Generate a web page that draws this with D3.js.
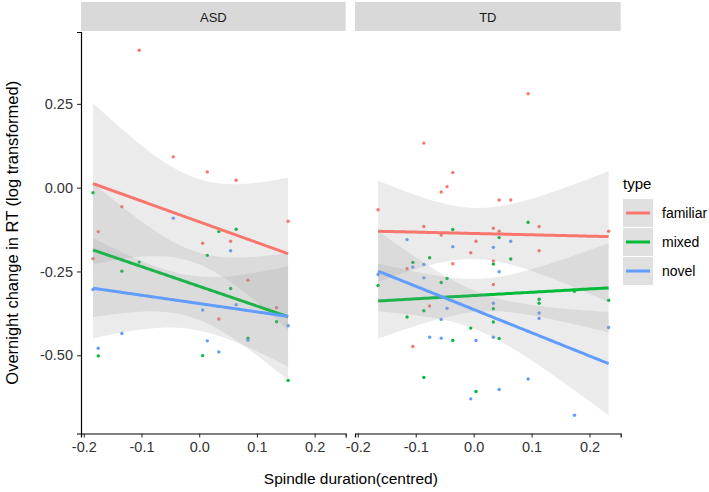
<!DOCTYPE html>
<html>
<head>
<meta charset="utf-8">
<script src="https://cdn.jsdelivr.net/npm/d3@7"></script>
<style>
  body { margin: 0; background: #fff; }
  text { font-family: "Liberation Sans", Arial, sans-serif; }
</style>
</head>
<body>
<div id="chart"></div>
<script>
// Points: [spindle duration (centred), overnight change in RT]
var asdFamiliar = [[-0.104,0.410],[-0.045,0.092],[0.014,0.047],[0.064,0.022],[-0.134,-0.057],[0.154,-0.100],
    [-0.175,-0.131],[0.006,-0.166],[0.0545,-0.160],[-0.184,-0.212],[0.0845,-0.276],[0.134,-0.358],[0.034,-0.392]];
var asdMixed = [[-0.184,-0.015],[0.064,-0.124],[0.034,-0.131],[0.014,-0.202],[-0.104,-0.222],[-0.134,-0.249],
    [0.0545,-0.301],[0.134,-0.400],[0.0845,-0.449],[-0.175,-0.502],[0.006,-0.501],[0.154,-0.575]];
var asdNovel = [[-0.045,-0.091],[0.0545,-0.188],[-0.184,-0.304],[0.006,-0.365],[0.064,-0.349],[0.154,-0.412],
    [-0.134,-0.435],[0.0845,-0.455],[0.014,-0.457],[-0.175,-0.479],[0.034,-0.490]];

var tdFamiliar = [[0.094,0.280],[-0.086,0.133],[-0.036,0.045],[-0.046,0.003],[-0.056,-0.013],[0.044,-0.037],
    [0.064,-0.037],[-0.165,-0.066],[-0.086,-0.116],[0.113,-0.116],[0.034,-0.121],[0.044,-0.130],[-0.056,-0.141],
    [0.004,-0.160],[0.113,-0.188],[-0.005,-0.194],[0.034,-0.219],[-0.036,-0.227],[-0.115,-0.242],[0.034,-0.289],
    [-0.076,-0.353],[-0.105,-0.474],[0.233,-0.130]];
var tdMixed = [[0.094,-0.103],[-0.036,-0.125],[0.044,-0.149],[0.064,-0.213],[-0.076,-0.209],[-0.105,-0.223],
    [0.034,-0.228],[-0.046,-0.271],[-0.056,-0.283],[-0.165,-0.292],[0.174,-0.309],[0.113,-0.333],[0.113,-0.345],
    [0.034,-0.361],[-0.086,-0.367],[-0.115,-0.386],[0.034,-0.401],[-0.005,-0.419],[0.044,-0.450],[-0.036,-0.456],
    [-0.086,-0.566],[0.004,-0.608],[0.233,-0.336]];
var tdNovel = [[-0.115,-0.155],[0.064,-0.160],[-0.036,-0.176],[0.034,-0.178],[-0.086,-0.229],[-0.105,-0.237],
    [0.044,-0.251],[-0.165,-0.259],[-0.086,-0.269],[0.034,-0.345],[-0.046,-0.360],[0.113,-0.374],[0.113,-0.390],
    [-0.056,-0.393],[-0.076,-0.446],[0.034,-0.446],[-0.056,-0.449],[0.004,-0.456],[0.094,-0.571],[0.044,-0.602],
    [-0.005,-0.630],[0.174,-0.679],[0.233,-0.417]];

// Fitted lines (lm): x range, fit at start / end,
// and the 95% band half-width at start / middle / end. Order: familiar, mixed, novel
var asdFitX = [-0.184, 0.154];
var asdFitStart = [0.012, -0.186, -0.300];
var asdFitEnd = [-0.197, -0.385, -0.384];
var asdBandHalf = [[0.241, 0.127, 0.227], [0.200, 0.100, 0.190], [0.150, 0.080, 0.150]];

var tdFitX = [-0.165, 0.233];
var tdFitStart = [-0.130, -0.338, -0.249];
var tdFitEnd = [-0.146, -0.299, -0.525];
var tdBandHalf = [[0.151, 0.080, 0.195], [0.112, 0.050, 0.133], [0.120, 0.060, 0.154]];

var groups = ["ASD", "TD"];
var types = ["familiar", "mixed", "novel"];
var typeColors = ["#F8766D", "#00BA38", "#619CFF"];
var xTicks = [-0.2, -0.1, 0.0, 0.1, 0.2];
var yTicks = [-0.50, -0.25, 0.00, 0.25];

var panelData = {
    ASD: { pts: [asdFamiliar, asdMixed, asdNovel], fx: asdFitX, f0: asdFitStart, f1: asdFitEnd, band: asdBandHalf },
    TD: { pts: [tdFamiliar, tdMixed, tdNovel], fx: tdFitX, f0: tdFitStart, f1: tdFitEnd, band: tdBandHalf }
};

var width = 709, height = 492;
var panelTop = 32, panelBottom = 433.5;
var panelX = { ASD: [81, 345.7], TD: [355, 620.7] };

var svg = d3.select("#chart").append("svg")
    .attr("width", width)
    .attr("height", height);

svg.append("rect").attr("width", width).attr("height", height).attr("fill", "#fff");

// shared scales with 5% expansion, like ggplot
var allPts = [].concat(asdFamiliar, asdMixed, asdNovel, tdFamiliar, tdMixed, tdNovel);
var xExt = d3.extent(allPts, function(d) { return d[0]; });
var yExt = d3.extent(allPts, function(d) { return d[1]; });
var xPad = (xExt[1] - xExt[0]) * 0.05, yPad = (yExt[1] - yExt[0]) * 0.05;

var y = d3.scaleLinear()
    .domain([yExt[0] - yPad, yExt[1] + yPad])
    .range([panelBottom, panelTop]);

// ggplot prints a plain hyphen for negatives
function hyphenFormat(spec) {
    var f = d3.format(spec);
    return function(v) { return f(v).replace("\u2212", "-"); };
}

// Build the smooth: straight fit, band half-width squared is quadratic in x
function smoothPath(fx, a, b, hw) {
    var s0 = hw[0]*hw[0], sm = hw[1]*hw[1], s1 = hw[2]*hw[2];
    var out = [];
    for (var i = 0; i <= 80; i++) {
        var t = i / 80;
        var xv = fx[0] + (fx[1] - fx[0]) * t;
        var fit = a + (b - a) * t;
        var h2 = s0*(2*t-1)*(t-1) - 4*sm*t*(t-1) + s1*t*(2*t-1);
        var h = Math.sqrt(Math.max(h2, 0));
        out.push({ x: xv, fit: fit, lo: fit - h, hi: fit + h });
    }
    return out;
}

groups.forEach(function(g, gi) {
    var pd = panelData[g];
    var x = d3.scaleLinear()
        .domain([xExt[0] - xPad, xExt[1] + xPad])
        .range(panelX[g]);
    var x0 = panelX[g][0], x1 = panelX[g][1];

    // strip
    svg.append("rect")
        .attr("x", x0).attr("y", 2)
        .attr("width", x1 - x0).attr("height", 29)
        .attr("fill", "#d9d9d9");
    svg.append("text")
        .attr("x", (x0 + x1) / 2).attr("y", 21.5)
        .attr("text-anchor", "middle")
        .attr("font-size", 13)
        .attr("fill", "#1a1a1a")
        .text(g);

    svg.append("clipPath").attr("id", "clip" + gi)
        .append("rect")
        .attr("x", x0).attr("y", panelTop)
        .attr("width", x1 - x0).attr("height", panelBottom - panelTop);

    var panel = svg.append("g").attr("clip-path", "url(#clip" + gi + ")");

    // points
    pd.pts.forEach(function(pts, ti) {
        panel.append("g").selectAll("circle")
            .data(pts)
            .enter()
            .append("circle")
                .attr("cx", function(d) { return x(d[0]); })
                .attr("cy", function(d) { return y(d[1]); })
                .attr("r", 1.7)
                .style("fill", typeColors[ti]);
    });

    // smooths: ribbon then line, per type
    types.forEach(function(t, ti) {
        var fit = smoothPath(pd.fx, pd.f0[ti], pd.f1[ti], pd.band[ti]);
        panel.append("path")
            .datum(fit)
            .attr("d", d3.area()
                .x(function(d) { return x(d.x); })
                .y0(function(d) { return y(d.lo); })
                .y1(function(d) { return y(d.hi); }))
            .attr("fill", "#999999")
            .attr("fill-opacity", 0.2);
        panel.append("path")
            .datum(fit)
            .attr("d", d3.line()
                .x(function(d) { return x(d.x); })
                .y(function(d) { return y(d.fit); }))
            .attr("fill", "none")
            .attr("stroke", typeColors[ti])
            .attr("stroke-width", 3);
    });

    // x axis
    var xAxis = svg.append("g")
        .attr("transform", "translate(0," + panelBottom + ")")
        .call(d3.axisBottom(x).tickValues(xTicks).tickSize(4).tickPadding(4)
            .tickFormat(hyphenFormat(".1f")));
    xAxis.select(".domain").attr("stroke", "#000").attr("stroke-width", 1.2);
    xAxis.selectAll(".tick line").attr("stroke", "#333").attr("stroke-width", 1.1);
    xAxis.selectAll("text")
        .attr("font-size", 14.5)
        .attr("fill", "#333")
        .style("font-family", '"Liberation Sans", Arial, sans-serif');
});

// y axis (left panel only)
var yAxis = svg.append("g")
    .attr("transform", "translate(" + panelX.ASD[0] + ",0)")
    .call(d3.axisLeft(y).tickValues(yTicks).tickSize(4).tickPadding(4)
        .tickFormat(hyphenFormat(".2f")));
yAxis.select(".domain").attr("stroke", "#000").attr("stroke-width", 1.2);
yAxis.selectAll(".tick line").attr("stroke", "#333").attr("stroke-width", 1.1);
yAxis.selectAll("text")
    .attr("font-size", 14.5)
    .attr("fill", "#333")
    .style("font-family", '"Liberation Sans", Arial, sans-serif');

// axis titles
svg.append("text")
    .attr("x", (panelX.ASD[0] + panelX.TD[1]) / 2)
    .attr("y", 484)
    .attr("text-anchor", "middle")
    .attr("font-size", 15.5)
    .attr("fill", "#000")
    .text("Spindle duration(centred)");

svg.append("text")
    .attr("transform", "translate(18," + (panelTop + panelBottom) / 2 + ") rotate(-90)")
    .attr("text-anchor", "middle")
    .attr("font-size", 16.5)
    .attr("fill", "#000")
    .text("Overnight change in RT (log transformed)");

// legend
var legend = svg.append("g").attr("transform", "translate(623,0)");
legend.append("text")
    .attr("x", 0).attr("y", 189)
    .attr("font-size", 15)
    .attr("fill", "#000")
    .text("type");

types.forEach(function(t, i) {
    var ky = 199 + i * 29;
    legend.append("rect")
        .attr("x", 0).attr("y", ky)
        .attr("width", 30).attr("height", 28)
        .attr("fill", "#e0e0e0");
    legend.append("line")
        .attr("x1", 3).attr("x2", 27)
        .attr("y1", ky + 14).attr("y2", ky + 14)
        .attr("stroke", typeColors[i])
        .attr("stroke-width", 3);
    legend.append("text")
        .attr("x", 39).attr("y", ky + 19)
        .attr("font-size", 14)
        .attr("fill", "#000")
        .text(t);
});
</script>
</body>
</html>
